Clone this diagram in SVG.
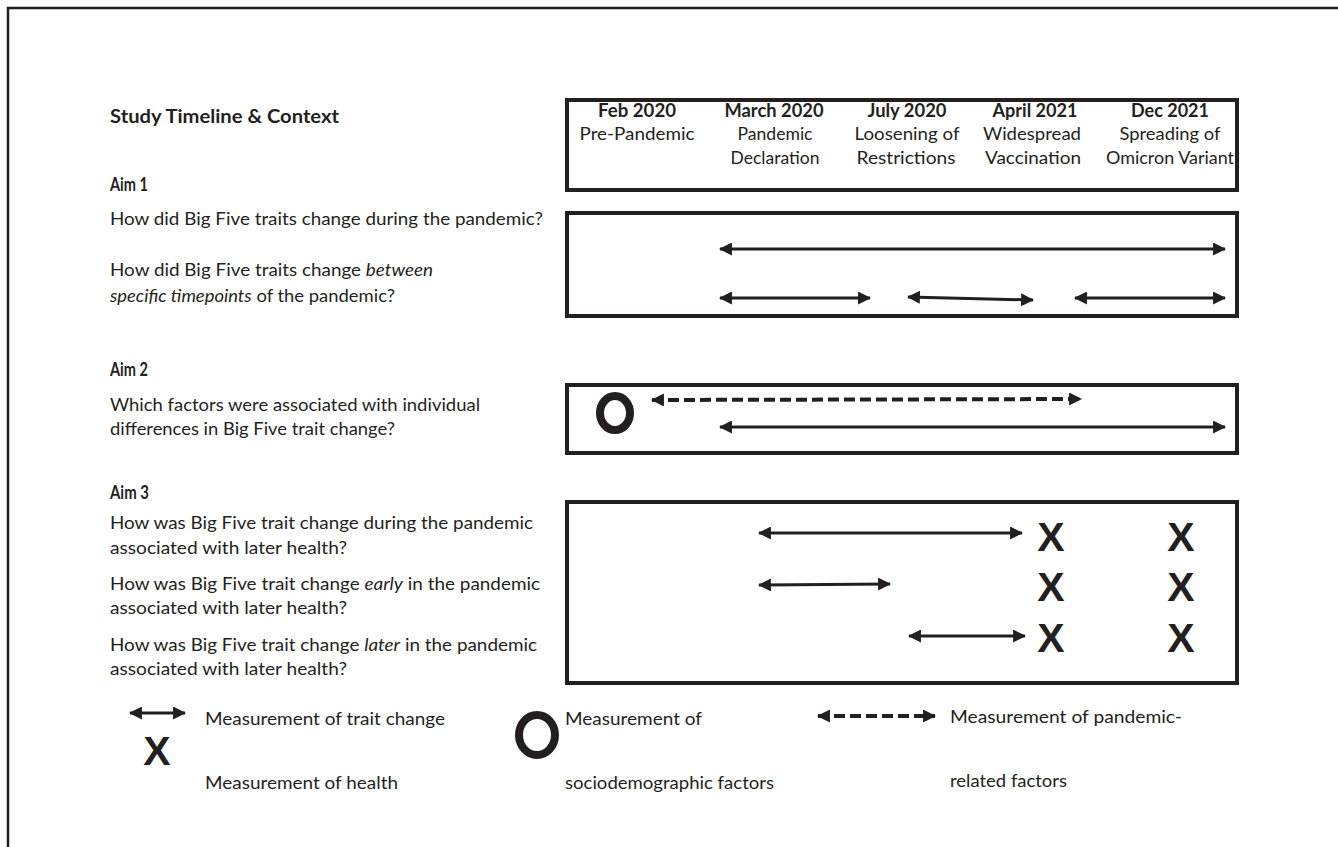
<svg xmlns="http://www.w3.org/2000/svg" width="1338" height="847" viewBox="0 0 1338 847">
<defs>
<marker id="ah" viewBox="0 0 12 12" refX="11" refY="6" markerWidth="13" markerHeight="13" markerUnits="userSpaceOnUse" orient="auto-start-reverse">
<path d="M0,0 L12,6 L0,12 Z" fill="#231f20"/>
</marker>
</defs>
<style>
text{font-family:Lato,"Open Sans","Liberation Sans",sans-serif;fill:#231f20;font-size:18px}
.b{font-weight:bold}
.m{text-anchor:middle}
.box{fill:none;stroke:#231f20;stroke-width:4}
.ar{fill:none;stroke:#231f20;stroke-width:3;marker-start:url(#ah);marker-end:url(#ah)}
.da{fill:none;stroke:#231f20;stroke-width:4;stroke-dasharray:11 5;marker-start:url(#ah);marker-end:url(#ah)}
.x{font-family:"Liberation Sans",Arial,sans-serif;font-weight:bold;font-size:41px;text-anchor:middle}
.ring{fill:none;stroke:#231f20;stroke-width:8}
</style>
<rect width="1338" height="847" fill="#fff"/>
<path d="M8,850 V8 H1340" fill="none" stroke="#231f20" stroke-width="2.5"/>

<g id="title">
<text class="b" x="110" y="123" textLength="229" lengthAdjust="spacingAndGlyphs">Study Timeline &amp; Context</text>
</g>

<g id="timeline">
<rect class="box" x="567" y="100" width="670" height="90"/>
<text class="b m" x="637" y="117" textLength="78" lengthAdjust="spacingAndGlyphs">Feb 2020</text>
<text class="m" x="637" y="140" textLength="115" lengthAdjust="spacingAndGlyphs">Pre-Pandemic</text>
<text class="b m" x="774" y="117" textLength="99" lengthAdjust="spacingAndGlyphs">March 2020</text>
<text class="m" x="775" y="140" textLength="75" lengthAdjust="spacingAndGlyphs">Pandemic</text>
<text class="m" x="775" y="164" textLength="89" lengthAdjust="spacingAndGlyphs">Declaration</text>
<text class="b m" x="907" y="117" textLength="79" lengthAdjust="spacingAndGlyphs">July 2020</text>
<text class="m" x="907" y="140" textLength="105" lengthAdjust="spacingAndGlyphs">Loosening of</text>
<text class="m" x="906" y="164" textLength="99" lengthAdjust="spacingAndGlyphs">Restrictions</text>
<text class="b m" x="1035" y="117" textLength="85" lengthAdjust="spacingAndGlyphs">April 2021</text>
<text class="m" x="1032" y="140" textLength="98" lengthAdjust="spacingAndGlyphs">Widespread</text>
<text class="m" x="1033" y="164" textLength="96" lengthAdjust="spacingAndGlyphs">Vaccination</text>
<text class="b m" x="1170" y="117" textLength="78" lengthAdjust="spacingAndGlyphs">Dec 2021</text>
<text class="m" x="1170" y="140" textLength="101" lengthAdjust="spacingAndGlyphs">Spreading of</text>
<text class="m" x="1170" y="164" textLength="128" lengthAdjust="spacingAndGlyphs">Omicron Variant</text>
</g>

<g id="aim1">
<text class="b" x="110" y="191" textLength="38" lengthAdjust="spacingAndGlyphs">Aim 1</text>
<text x="110" y="225" textLength="433" lengthAdjust="spacingAndGlyphs">How did Big Five traits change during the pandemic?</text>
<text x="110" y="276" textLength="323" lengthAdjust="spacingAndGlyphs">How did Big Five traits change <tspan font-style="italic">between</tspan></text>
<text x="110" y="302" textLength="285" lengthAdjust="spacingAndGlyphs"><tspan font-style="italic">specific timepoints</tspan> of the pandemic?</text>
<rect class="box" x="567" y="213" width="670" height="103"/>
</g>

<g id="aim2">
<text class="b" x="110" y="376" textLength="38" lengthAdjust="spacingAndGlyphs">Aim 2</text>
<text x="110" y="411" textLength="370" lengthAdjust="spacingAndGlyphs">Which factors were associated with individual</text>
<text x="110" y="435" textLength="285" lengthAdjust="spacingAndGlyphs">differences in Big Five trait change?</text>
<rect class="box" x="567" y="385" width="670" height="68"/>
<ellipse class="ring" cx="615" cy="413" rx="15" ry="17"/>
</g>

<g id="aim3">
<text class="b" x="110" y="499" textLength="39" lengthAdjust="spacingAndGlyphs">Aim 3</text>
<text x="110" y="529" textLength="423" lengthAdjust="spacingAndGlyphs">How was Big Five trait change during the pandemic</text>
<text x="110" y="554" textLength="237" lengthAdjust="spacingAndGlyphs">associated with later health?</text>
<text x="110" y="590" textLength="430" lengthAdjust="spacingAndGlyphs">How was Big Five trait change <tspan font-style="italic">early</tspan> in the pandemic</text>
<text x="110" y="614" textLength="237" lengthAdjust="spacingAndGlyphs">associated with later health?</text>
<text x="110" y="651" textLength="427" lengthAdjust="spacingAndGlyphs">How was Big Five trait change <tspan font-style="italic">later</tspan> in the pandemic</text>
<text x="110" y="675" textLength="237" lengthAdjust="spacingAndGlyphs">associated with later health?</text>
<rect class="box" x="567" y="502" width="670" height="181"/>
<text class="x" x="1051" y="551">X</text>
<text class="x" x="1181" y="551">X</text>
<text class="x" x="1051" y="601">X</text>
<text class="x" x="1181" y="601">X</text>
<text class="x" x="1051" y="652">X</text>
<text class="x" x="1181" y="652">X</text>
</g>

<g id="legend">
<text x="205" y="725" textLength="240" lengthAdjust="spacingAndGlyphs">Measurement of trait change</text>
<text class="x" x="157" y="765">X</text>
<text x="205" y="789" textLength="193" lengthAdjust="spacingAndGlyphs">Measurement of health</text>
<ellipse class="ring" cx="537" cy="735" rx="18" ry="20" stroke-width="9"/>
<text x="565" y="725" textLength="137" lengthAdjust="spacingAndGlyphs">Measurement of</text>
<text x="565" y="789" textLength="209" lengthAdjust="spacingAndGlyphs">sociodemographic factors</text>
<text x="950" y="723" textLength="232" lengthAdjust="spacingAndGlyphs">Measurement of pandemic-</text>
<text x="950" y="787" textLength="117" lengthAdjust="spacingAndGlyphs">related factors</text>
</g>

<g id="connectors">
<line class="ar" x1="720" y1="249" x2="1225" y2="249"/>
<line class="ar" x1="720" y1="298" x2="870" y2="298"/>
<line class="ar" x1="908" y1="297" x2="1033" y2="300"/>
<line class="ar" x1="1075" y1="298" x2="1225" y2="298"/>
<line class="da" x1="652" y1="400" x2="1081" y2="399"/>
<line class="ar" x1="720" y1="427" x2="1225" y2="427"/>
<line class="ar" x1="759" y1="533" x2="1022" y2="533"/>
<line class="ar" x1="759" y1="585" x2="890" y2="584"/>
<line class="ar" x1="909" y1="636" x2="1025" y2="636"/>
<line class="ar" x1="130" y1="713" x2="185" y2="713"/>
<line class="da" x1="818" y1="716" x2="935" y2="716"/>
</g>
</svg>
